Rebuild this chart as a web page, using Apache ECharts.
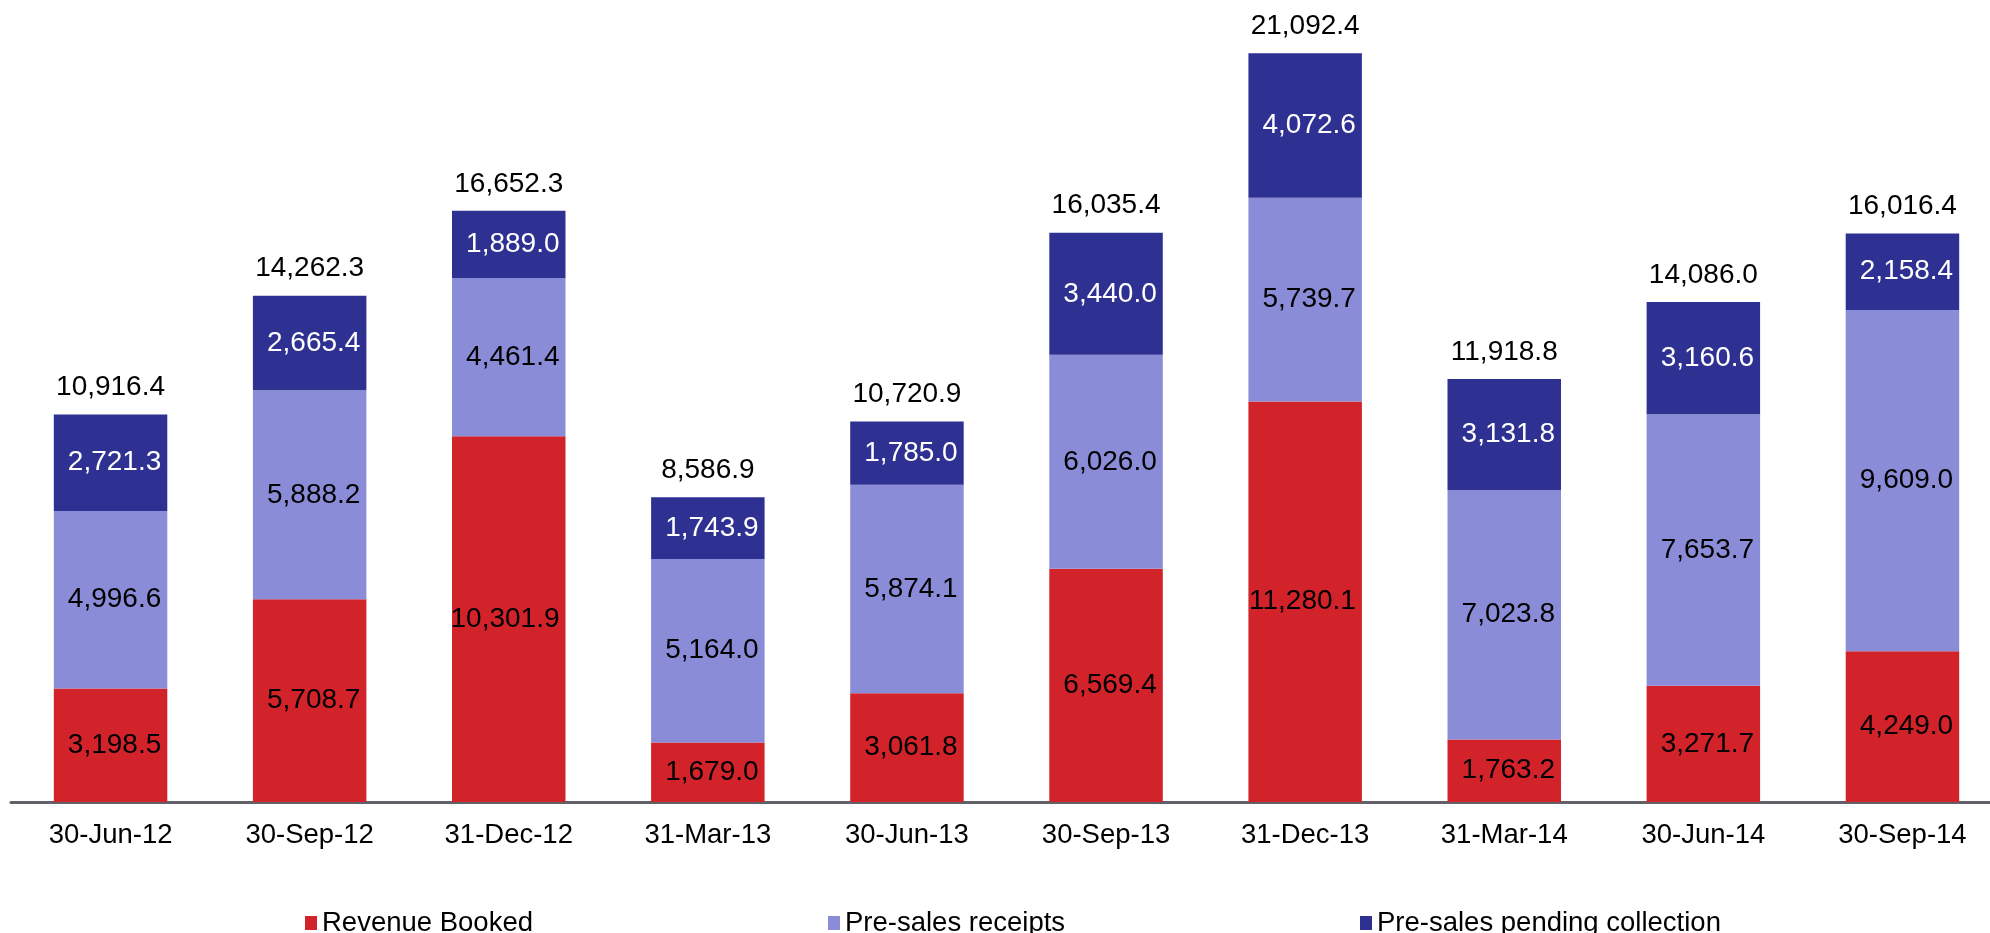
<!DOCTYPE html>
<html>
<head>
<meta charset="utf-8">
<script src="https://cdn.jsdelivr.net/npm/echarts@6/dist/echarts.min.js"></script>
<style>
html, body { margin: 0; padding: 0; background: #fff; }
#chart { width: 1990px; height: 933px; }
</style>
</head>
<body>
<div id="chart"></div>
<script>
var quarters = ['30-Jun-12', '30-Sep-12', '31-Dec-12', '31-Mar-13', '30-Jun-13', '30-Sep-13', '31-Dec-13', '31-Mar-14', '30-Jun-14', '30-Sep-14']
var revenueBooked = [3198.5, 5708.7, 10301.9, 1679.0, 3061.8, 6569.4, 11280.1, 1763.2, 3271.7, 4249.0]
var presalesReceipts = [4996.6, 5888.2, 4461.4, 5164.0, 5874.1, 6026.0, 5739.7, 7023.8, 7653.7, 9609.0]
var presalesPending = [2721.3, 2665.4, 1889.0, 1743.9, 1785.0, 3440.0, 4072.6, 3131.8, 3160.6, 2158.4]
var totals = [10916.4, 14262.3, 16652.3, 8586.9, 10720.9, 16035.4, 21092.4, 11918.8, 14086.0, 16016.4]
var names = ['Revenue Booked', 'Pre-sales receipts', 'Pre-sales pending collection']

var fontFam = '"Liberation Sans", Arial, sans-serif'

function fmt(v) {
    return Number(v).toLocaleString('en-US', {minimumFractionDigits: 1, maximumFractionDigits: 1})
}

function segLabel(color) {
    return {
        show: true,
        position: 'insideRight',
        distance: 6,
        color: color,
        fontSize: 28,
        fontFamily: fontFam,
        formatter: function (p) { return fmt(p.value) }
    }
}

var chart = echarts.init(document.getElementById('chart'))
var option = {
    animation: false,
    color: ['#d2232a', '#8b8cd8', '#2e3192'],
    grid: {
        left: 11,
        top: 21,
        right: -12,
        bottom: 131,
        containLabel: false,
        outerBoundsMode: 'none'
    },
    legend: [
        {data: [names[0]], left: 300, top: 904},
        {data: [names[1]], left: 823, top: 904},
        {data: [names[2]], left: 1355, top: 904}
    ].map(function (l) {
        l.itemWidth = 12
        l.itemHeight = 14
        l.icon = 'rect'
        l.textStyle = {fontSize: 27.5, color: '#000', fontFamily: fontFam}
        return l
    }),
    xAxis: {
        type: 'category',
        data: quarters,
        axisTick: {show: false},
        axisLine: {lineStyle: {color: '#616167', width: 3}},
        axisLabel: {
            color: '#000',
            fontSize: 27.5,
            fontFamily: fontFam,
            margin: 19,
            interval: 0
        }
    },
    yAxis: {
        type: 'value',
        min: 0,
        max: 22000,
        show: false,
        splitLine: {show: false}
    },
    series: [
        {
            name: names[0],
            type: 'bar',
            stack: 'total',
            barWidth: '57%',
            data: revenueBooked,
            label: segLabel('#000')
        },
        {
            name: names[1],
            type: 'bar',
            stack: 'total',
            data: presalesReceipts,
            label: segLabel('#000')
        },
        {
            name: names[2],
            type: 'bar',
            stack: 'total',
            data: presalesPending,
            label: segLabel('#fff')
        },
        {
            name: 'Total',
            type: 'bar',
            stack: 'total',
            data: totals.map(function () { return 0 }),
            itemStyle: {color: 'transparent'},
            label: {
                show: true,
                position: 'top',
                distance: 13,
                color: '#000',
                fontSize: 28,
                fontFamily: fontFam,
                formatter: function (p) { return fmt(totals[p.dataIndex]) }
            }
        }
    ]
}
chart.setOption(option)
</script>
</body>
</html>
